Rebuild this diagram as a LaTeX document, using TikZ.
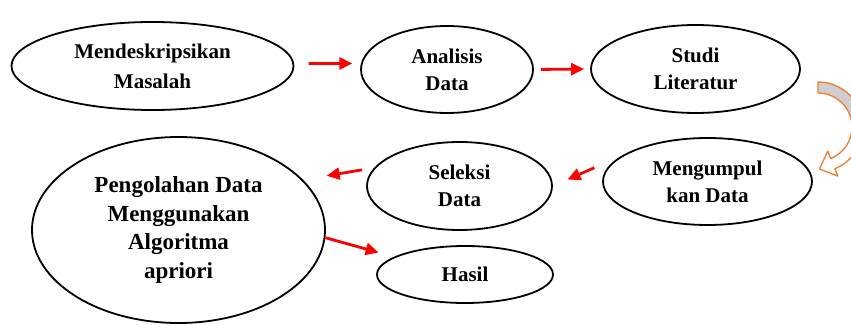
\documentclass[tikz,border=0pt]{standalone}
\usepackage{fontspec}
\setmainfont{Liberation Serif}
\usepackage{tikz}
\usetikzlibrary{shapes.geometric,arrows.meta}
\definecolor{merah}{RGB}{255,0,0}
\definecolor{oranye}{RGB}{237,125,49}
\definecolor{abu}{RGB}{208,206,206}

\begin{document}
\begin{tikzpicture}[x=1pt,y=1pt,
  tahap/.style={draw,ellipse,line width=1.8pt,inner sep=0pt,align=center,
    font=\fontsize{21}{27}\selectfont\bfseries},
  panah/.style={draw=merah,line width=2.8pt,-{Triangle[length=13pt,width=12pt]}},
  pita/.style={draw=oranye,line width=1.3pt,line join=round}]
\useasboundingbox (0,0) rectangle (851,324);
\clip (0,0) rectangle (851,324);

\node[tahap,minimum width=282,minimum height=88] (masalah) at (152.5,258) {Mendeskripsikan\\[3pt]Masalah};
\node[tahap,minimum width=172,minimum height=87] (analisis) at (447,254.5) {Analisis\\Data};
\node[tahap,minimum width=209,minimum height=88] (studi) at (695.5,255) {Studi\\Literatur};
\node[tahap,minimum width=209,minimum height=87] (kumpul) at (707.5,142.5) {Mengumpul\\kan Data};
\node[tahap,minimum width=185,minimum height=88] (seleksi) at (459.5,138) {Seleksi\\Data};
\node[tahap,minimum width=293,minimum height=186,font=\fontsize{23}{28.5}\selectfont\bfseries] (olah) at (178.5,94)
  {Pengolahan Data\\Menggunakan\\Algoritma\\apriori};
\node[tahap,minimum width=176,minimum height=57] (hasil) at (465,49.5) {Hasil};

\draw[panah,shorten <=14.5pt,shorten >=8.5pt] (masalah.1) -- (analisis.176);
\draw[panah,shorten <=7pt,shorten >=6pt] (analisis.east) -- (studi.west);
\draw[panah,shorten <=30.5pt,shorten >=16pt] (kumpul.163) -- (seleksi.east);
\draw[panah,shorten <=12.3pt,shorten >=24pt] (seleksi.168) -- (olah.22);
\draw[panah,shorten >=16pt] (olah.-3) -- (hasil.166);

\begin{scope}[shift={(818,197)}]
\filldraw[pita,fill=abu] (90:45) arc[start angle=90,end angle=0,radius=45]
  -- (0:34) arc[start angle=0,end angle=90,radius=34] -- cycle;
\filldraw[pita,fill=white] (0:45) arc[start angle=0,end angle=-68,radius=45]
  -- (-68:53) -- (-88:42) -- (-68:26) -- (-68:34)
  arc[start angle=-68,end angle=0,radius=34] -- cycle;
\end{scope}
\end{tikzpicture}
\end{document}
